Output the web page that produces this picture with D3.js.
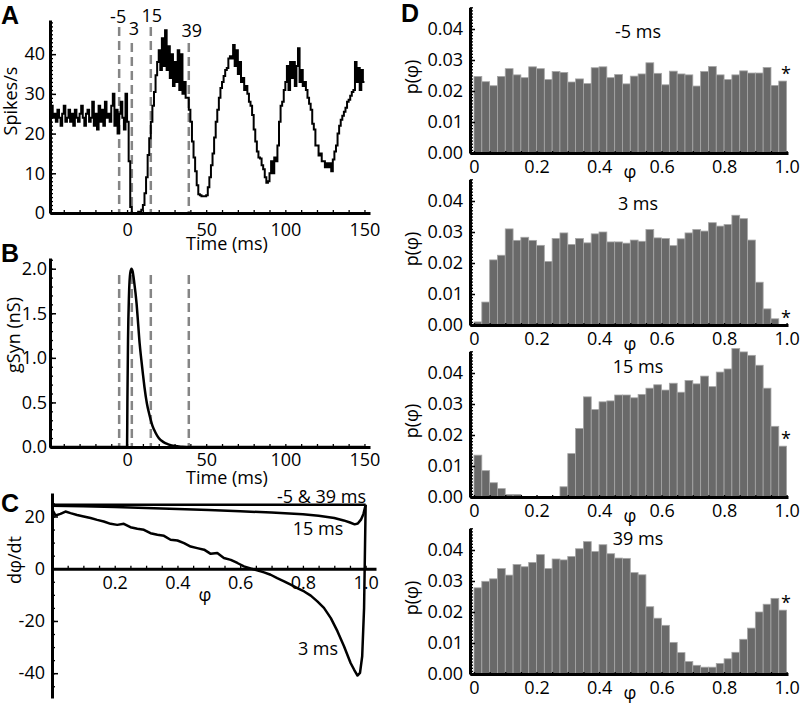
<!DOCTYPE html>
<html><head><meta charset="utf-8">
<script src="https://cdn.jsdelivr.net/npm/d3@7"></script>
<style>
body{margin:0;background:#fff;}
svg text{font-family:"Open Sans",sans-serif;font-size:18px;fill:#000;}
svg text.panel{font-family:"Liberation Sans",Arial,sans-serif;font-weight:bold;font-size:25px;}
</style></head><body>
<svg id="c" width="800" height="704"></svg>
<script>
// ---------- DATA ----------
const rateStart = -49; // ms, first 1-ms bin
const spikeRate = [
 26,27,24,25,23,26,24,22,25,27,
 23,24,26,23,25,22,26,24,23,25,
 27,24,22,25,26,23,24,28,22,25,
 21,27,23,26,22,28,24,25,23,27,
 30,22,26,20,25,28,24,21,30,
 23,13,1.5,0,0,0,0,0.3,0.3,0.8,
 2,5,9,14.6,18.8,23,27,30.5,34.7,38,
 41,36,44,37,46,36,42,34,40,32,
 38,33,41,31,40,30,33,29,29,26,
 23,18,14,10.5,7,4.7,4.5,4.2,4.2,4.2,
 4.5,6.5,9,12,15,19,23,26,29,31.5,
 33,34.5,36,36.5,38.9,39.5,38.9,42.3,37,41,
 35,38,33,34,31,32,30,28,27,24.7,
 21,18,15.5,14,13.7,12,11,9,7.6,8,
 10,13,10,14,13,17,23,27,28,31,
 33,37,31,38,34,38,32,37,41.5,33,
 36,32,33,31,29,27.5,26,22.5,21,17,
 17,14.5,15,13,13,11.5,12.5,11.5,12.5,10.5,
 13.5,15.5,17,20,22,23.5,24.5,25.5,26.5,28,
 28.5,29.5,30.5,31,38,33,36.5,31,36,33
];
const markTimes = [-5, 3, 15, 39];
const markLabels = ["-5", "3", "15", "39"];

const gSynTime  = [-49, 0, 0.2, 0.6, 1.2, 2, 2.8, 3.5, 4.5, 6, 7, 8, 9, 10, 11, 12.5, 14, 16, 18, 20, 23, 26, 30, 35, 40, 150];
const gSynValue = [0, 0, 0.5, 1.2, 1.7, 1.95, 2.0, 1.97, 1.85, 1.61, 1.38, 1.15, 0.98, 0.82, 0.67, 0.49, 0.37, 0.24, 0.16, 0.1, 0.055, 0.03, 0.01, 0.003, 0, 0];

const phiFlat = [0, 1];
const rateFlat = [24.5, 24.5];
const phi15 = [0,0.1,0.2,0.3,0.4,0.5,0.6,0.7,0.8,0.85,0.9,0.93,0.95,0.965,0.975,0.985,0.993,1.0];
const rate15 = [24.1,23.9,23.6,23.3,22.9,22.5,22.0,21.5,20.9,20.3,19.4,18.5,17.7,17.0,17.3,18.8,21.0,24.5];
const phi3 = [0,0.011,0.027,0.043,0.059,0.080,0.101,0.123,0.144,0.165,0.187,0.208,0.229,0.250,0.272,0.293,0.314,0.336,0.357,0.378,0.400,0.421,0.442,0.463,0.485,0.506,0.527,0.548,0.570,0.591,0.612,0.633,0.654,0.676,0.697,0.718,0.740,0.761,0.782,0.804,0.825,0.846,0.867,0.889,0.910,0.931,0.952,0.963,0.974,0.982,0.989,0.995,1.0];
const rate3 = [22.8,20.4,21.0,21.9,21.3,20.6,20.0,19.4,18.7,18.1,17.2,16.8,17.2,15.9,15.3,14.9,13.6,13.0,12.6,11.1,10.8,9.8,8.5,7.9,7.3,5.7,6.0,4.1,3.4,2.2,0.9,0.1,-0.6,-1.4,-2.3,-3.6,-4.8,-6.1,-7.4,-8.7,-10.3,-12.5,-15.0,-18.9,-23.9,-29.7,-36.1,-38.6,-40.9,-39.9,-33.5,-15,24.5];
const curveLabels = ["-5 & 39 ms", "15 ms", "3 ms"];

const histLabels = ["-5 ms", "3 ms", "15 ms", "39 ms"];
const binWidth = 0.025;
const histM5 = [0.0247,0.0230,0.0217,0.0247,0.0272,0.0252,0.0243,0.0278,0.0272,0.0237,0.0263,0.0260,0.0229,0.0239,0.0224,0.0275,0.0278,0.0243,0.0253,0.0223,0.0248,0.0255,0.0291,0.0257,0.0220,0.0264,0.0255,0.0252,0.0216,0.0263,0.0279,0.0252,0.0237,0.0252,0.0265,0.0258,0.0258,0.0276,0.0218,0.0232];
const hist3 = [0.001,0.0074,0.021,0.0225,0.031,0.0273,0.0283,0.0273,0.0257,0.0205,0.0279,0.0297,0.026,0.0279,0.0265,0.0294,0.030,0.0268,0.0268,0.0264,0.0274,0.027,0.0308,0.0281,0.0279,0.0256,0.0278,0.0297,0.0308,0.0303,0.033,0.0319,0.0324,0.0354,0.0343,0.0274,0.0138,0.0052,0.002,0];
const hist15 = [0.0135,0.0085,0.0046,0.0027,0.0008,0.0008,0,0,0.0002,0.0002,0.0002,0.0033,0.014,0.0221,0.0323,0.0282,0.0307,0.031,0.0329,0.0329,0.032,0.0331,0.0351,0.0362,0.0345,0.0367,0.0338,0.0376,0.0365,0.039,0.0356,0.0403,0.0413,0.0479,0.0468,0.0457,0.0425,0.0351,0.0228,0.0164];
const hist39 = [0.0278,0.0299,0.0307,0.034,0.0319,0.0353,0.0346,0.036,0.0385,0.034,0.0371,0.0368,0.0379,0.0404,0.0427,0.0395,0.0417,0.0388,0.0374,0.0373,0.0327,0.032,0.0217,0.018,0.0157,0.0102,0.0069,0.004,0.0028,0.0022,0.0022,0.0034,0.0049,0.007,0.0112,0.0148,0.02,0.0225,0.0244,0.0206];
const histData = [histM5, hist3, hist15, hist39];

const timeTicks = [0, 50, 100, 150];
const rateTicks = [0, 10, 20, 30, 40];
const gTicks = [0, 0.5, 1.0, 1.5, 2.0];
const dphiTicks = [-40, -20, 0, 20];
const phiTicksC = [0.2, 0.4, 0.6, 0.8, 1.0];
const phiTicksD = [0, 0.2, 0.4, 0.6, 0.8, 1.0];
const pTicks = [0, 0.01, 0.02, 0.03, 0.04];

// ---------- LAYOUT ----------
const svg = d3.select("#c");
const DASH = "#858585";

function range(a, b, s) { const r = []; for (let v = a; v <= b + 1e-9; v += s) r.push(+v.toFixed(6)); return r; }

function yAxis(scale, x, majors, minors, fmt, pad, minorLen, majorLen) {
  const g1 = svg.append("g").attr("transform", `translate(${x},0)`)
    .call(d3.axisLeft(scale).tickValues(minors).tickSize(-minorLen).tickSizeOuter(0).tickFormat(""));
  g1.select(".domain").attr("stroke-width", 3);
  g1.selectAll(".tick line").attr("stroke-width", 1.3);
  const g2 = svg.append("g").attr("transform", `translate(${x},0)`)
    .call(d3.axisLeft(scale).tickValues(majors).tickSize(-majorLen).tickPadding(pad).tickFormat(fmt));
  g2.select(".domain").remove();
  g2.selectAll(".tick line").attr("stroke-width", 1.5);
  g2.attr("font-size", null).attr("font-family", null);
  g1.attr("font-size", null).attr("font-family", null);
}
function xAxis(scale, y, majors, minors, fmt, pad, minorLen) {
  const g1 = svg.append("g").attr("transform", `translate(0,${y})`)
    .call(d3.axisBottom(scale).tickValues(minors).tickSize(-minorLen).tickSizeOuter(0).tickFormat(""));
  g1.select(".domain").attr("stroke-width", 3);
  g1.selectAll(".tick line").attr("stroke-width", 1.3);
  g1.attr("font-size", null).attr("font-family", null);
  if (majors) {
    const g2 = svg.append("g").attr("transform", `translate(0,${y})`)
      .call(d3.axisBottom(scale).tickValues(majors).tickSize(0).tickPadding(pad).tickFormat(fmt));
    g2.select(".domain").remove();
    g2.attr("font-size", null).attr("font-family", null);
  }
}
function vLabel(text, x, y) {
  svg.append("text").attr("transform", `translate(${x},${y}) rotate(-90)`)
    .attr("text-anchor", "middle").attr("dy", "0.35em").text(text);
}
function txt(text, x, y, anchor) {
  return svg.append("text").attr("x", x).attr("y", y).attr("text-anchor", anchor || "middle").text(text);
}

// ---------- PANEL A ----------
const xT_A = d3.scaleLinear().domain([-48.7, 153.5]).range([50, 370]);
const yA = d3.scaleLinear().domain([0, 48.6]).range([213, 20]);
const markTopA = [27, 43, 27, 43];
const markLblDx = [-1, 2, 1, 3];
const markLblY = [23, 35, 22, 37];
markTimes.forEach((t, i) => {
  svg.append("line").attr("x1", xT_A(t)).attr("x2", xT_A(t)).attr("y1", markTopA[i]).attr("y2", yA(0))
    .attr("stroke", DASH).attr("stroke-width", 2.5).attr("stroke-dasharray", "9,5");
  txt(markLabels[i], xT_A(t) + markLblDx[i], markLblY[i]);
});
const ratePts = spikeRate.map((v, i) => [rateStart + i, v]);
ratePts.push([rateStart + spikeRate.length, spikeRate[spikeRate.length - 1]]);
svg.append("path").datum(ratePts)
  .attr("d", d3.line().x(d => xT_A(d[0])).y(d => yA(d[1])).curve(d3.curveStepAfter))
  .attr("fill", "none").attr("stroke", "#000").attr("stroke-width", 2);
yAxis(yA, 50, rateTicks, range(0, 48, 1), d => String(d), 5, 3, 6);
xAxis(xT_A, 213, timeTicks, range(-40, 150, 10), d => String(d), 10, 3);
txt("Time (ms)", 227, 250);
vLabel("Spikes/s", 11, 101);
txt("A", 1, 24, "start").attr("class", "panel");

// ---------- PANEL B ----------
const xT_B = d3.scaleLinear().domain([-48.7, 153.5]).range([50, 370]);
const yB = d3.scaleLinear().domain([0, 2.12]).range([447, 258]);
markTimes.forEach(t => {
  svg.append("line").attr("x1", xT_B(t)).attr("x2", xT_B(t)).attr("y1", 275).attr("y2", yB(0))
    .attr("stroke", DASH).attr("stroke-width", 2.5).attr("stroke-dasharray", "9,5");
});
svg.append("path").datum(gSynTime.map((t, i) => [t, gSynValue[i]]))
  .attr("d", d3.line().x(d => xT_B(d[0])).y(d => yB(d[1])).curve(d3.curveMonotoneX))
  .attr("fill", "none").attr("stroke", "#000").attr("stroke-width", 2.5);
yAxis(yB, 50, gTicks, range(0, 2.1, 0.1), d => d.toFixed(1), 3, 3, 6);
xAxis(xT_B, 447, timeTicks, range(-40, 150, 10), d => String(d), 6, 3);
txt("Time (ms)", 227, 484);
vLabel("gSyn (nS)", 14, 335);
txt("B", 1, 262, "start").attr("class", "panel");

// ---------- PANEL C ----------
const xC = d3.scaleLinear().domain([0, 1.033]).range([52, 376]);
const yC = d3.scaleLinear().domain([-49.5, 29]).range([698, 493]);
const lineC = d3.line().x(d => xC(d[0])).y(d => yC(d[1]));
[[phiFlat, rateFlat], [phi15, rate15], [phi3, rate3]].forEach(([px, py]) => {
  svg.append("path").datum(px.map((p, i) => [p, py[i]])).attr("d", lineC)
    .attr("fill", "none").attr("stroke", "#000").attr("stroke-width", 2.5).attr("stroke-linejoin", "round");
});
yAxis(yC, 52, dphiTicks, range(-45, 25, 5), d => String(d), 7, 3, 6);
xAxis(xC, yC(0), phiTicksC, range(0.05, 1.0, 0.05), d => d.toFixed(1), 8, 3);
txt("φ", 205, 601);
vLabel("dφ/dt", 15, 560);
txt(curveLabels[0], 366, 503, "end");
txt(curveLabels[1], 318, 535);
txt(curveLabels[2], 318, 655);
txt("C", 1, 512, "start").attr("class", "panel");

// ---------- PANEL D ----------
const histY0 = [153, 325, 497, 674];
const titleOff = [115, 115, 124, 129];
const xD = d3.scaleLinear().domain([-0.0128, 1.0045]).range([470, 788]);
histData.forEach((vals, k) => {
  const y0 = histY0[k];
  const yD = d3.scaleLinear().domain([0, 0.047]).range([y0, y0 - 0.047 * 3100]);
  svg.append("g").selectAll("rect").data(vals).join("rect")
    .attr("x", (d, i) => xD(i * binWidth))
    .attr("width", xD(binWidth) - xD(0))
    .attr("y", d => yD(d))
    .attr("height", d => yD(0) - yD(d))
    .attr("fill", "#696969").attr("stroke", "#a6a6a6").attr("stroke-width", 0.8);
  yAxis(yD, 470, pTicks, range(0, 0.047, 0.001), d => d.toFixed(2), 7, 3, 5);
  xAxis(xD, y0, phiTicksD, range(0, 1.0, 0.05), d => d === 0 ? "0" : d.toFixed(1), 7, 2);
  txt("φ", 630, y0 + 25);
  vLabel("p(φ)", 412, y0 - 76);
  txt(histLabels[k], 638, y0 - titleOff[k]);
  txt("*", 786, yD(vals[vals.length - 1]) - 1);
});
txt("D", 401, 22, "start").attr("class", "panel");
</script></body></html>
